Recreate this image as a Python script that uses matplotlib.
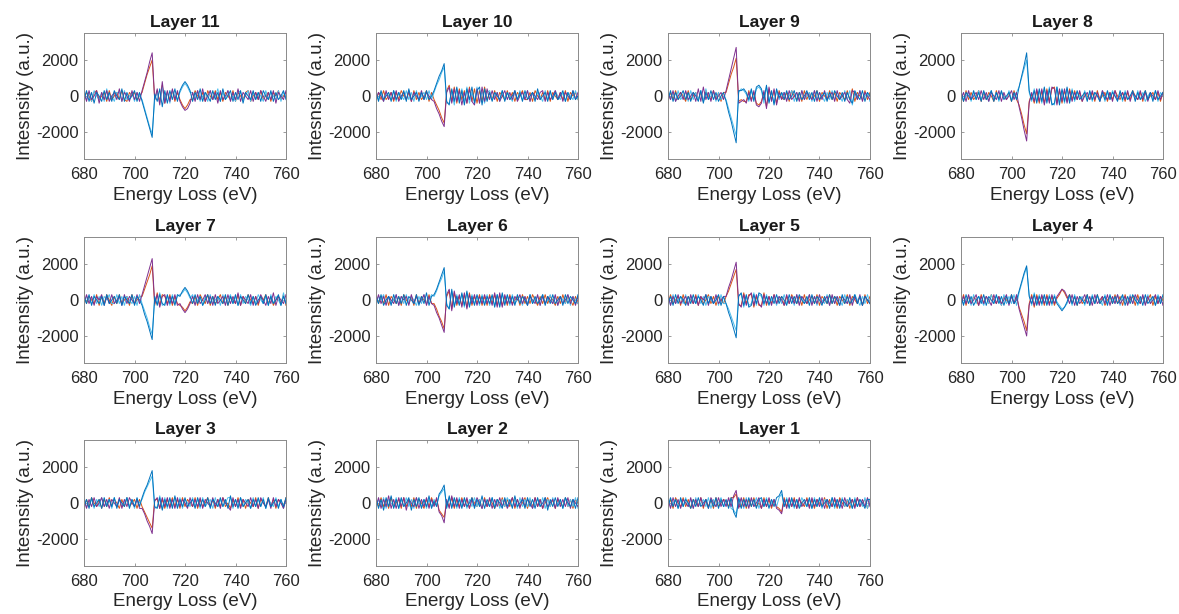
import numpy as np
import matplotlib
matplotlib.use("Agg")
import matplotlib.pyplot as plt

plt.rcParams['font.family'] = ['Liberation Sans', 'DejaVu Sans']
plt.rcParams['axes.unicode_minus'] = False

# Energy grid (eV); intensities in units of 100 a.u.
energy = list(range(680, 761))
scale = 100

titles = ["Layer 11", "Layer 10", "Layer 9", "Layer 8", "Layer 7", "Layer 6",
          "Layer 5", "Layer 4", "Layer 3", "Layer 2", "Layer 1"]
xticks = [680, 700, 720, 740, 760]
yticks = [-2000, 0, 2000]

L11_purple = [2,-3,3,-2,0,3,-4,2,-2,3,-3,0,2,-2,4,-3,2,0,-3,3,-2,2,-3,
              3,8,13,19,24,-2,
              4,-5,8,-4,3,-3,4,-2,3,
              -3,-6,-8,-7,-4,
              2,-3,3,-2,4,-3,0,3,-2,2,-4,3,-2,0,3,-3,2,-2,4,-3,2,0,-2,3,-3,2,-2,3,0,-3,2,-2,3,-4,2,0,-2,3]
L11_blue = [-2,3,-3,2,-4,2,0,-3,3,-2,2,-3,3,0,-2,4,-3,2,-2,0,3,-3,2,
            -3,-8,-13,-18,-23,1,
            -3,4,-6,3,-4,3,-2,4,-3,
            3,6,8,6,3,
            -3,2,-2,4,-3,2,0,-3,3,-2,2,-3,4,-2,0,3,-3,2,-2,3,-4,2,0,-2,3,-2,2,-3,3,0,-2,3,-3,2,-2,0,3,-2]
L11_cyan = [3,-2,2,-3,3,0,-2,2,-3,4,-2,0,-3,2,2,-3,3,-2,0,2,-3,2,0,
            -2,-7,-12,-17,-21,-2,
            2,-4,5,-3,2,-4,3,0,-2,
            2,5,7,5,2,
            2,-2,3,-3,0,2,-3,3,-2,0,4,-3,2,-2,3,-2,0,-3,3,2,-2,0,3,-3,2,-2,2,0,-3,3,-2,2,0,-2,3,-3,2,0]
L11_orange = [-2,2,0,-3,2,3,-2,0,2,-3,3,-2,0,2,-2,3,-2,-3,2,0,2,-2,0,
              2,7,12,16,20,-2,
              3,-3,6,-4,2,-2,3,-3,2,
              -2,-5,-7,-5,-2,
              -2,3,0,-2,2,-3,3,0,-2,3,-2,2,-3,2,0,-2,3,-3,2,0,-2,2,3,-3,0,2,-2,3,-2,0,2,-3,2,0,3,-2,0,2]

L10_blue = [2,-3,3,-2,0,2,-3,3,-2,2,-2,3,-3,4,-2,0,2,-3,2,-2,3,-2,0,
            3,7,11,14,18,-3,
            -5,4,-3,5,-4,3,-5,4,-2,5,-4,3,5,-5,4,-3,
            2,-3,2,0,-2,3,-3,2,-2,0,3,-2,2,-3,3,-2,0,2,-3,4,-2,0,2,-3,3,-2,2,-2,0,3,-3,2,-2,3,-2,0]
L10_purple = [-2,2,0,-3,3,-2,2,-2,3,-3,0,2,-2,3,-3,2,0,-2,3,-2,2,0,-2,
              -3,-7,-10,-14,-17,2,
              5,-4,4,-3,3,-5,2,-4,4,-3,-5,4,-4,5,-3,4,
              -2,3,-2,2,-3,0,3,-2,2,-2,3,-3,0,2,-2,3,-3,2,0,-2,2,3,-3,2,-2,0,3,-2,2,-3,2,0,-2,3,-2,2]
L10_cyan = [3,-2,2,-3,2,0,-2,3,-3,2,0,-2,3,-2,2,-3,3,-2,0,2,-2,3,-2,
            2,6,9,13,16,-4,
            -4,3,-5,4,-2,4,-3,5,-4,2,-3,5,-4,3,-4,2,
            3,-2,0,2,-3,3,-2,2,0,-3,2,-2,3,-2,0,3,-3,2,-2,2,0,-3,3,-2,2,-2,3,0,-2,2,-3,2,0,-2,3,-2]
L10_orange = [-3,2,-2,3,-2,0,2,-3,2,-2,3,0,-2,2,-3,3,-2,2,-2,0,3,-3,2,
              -2,-5,-8,-12,-15,3,
              6,-3,5,-4,4,-2,3,-4,5,-3,4,-4,3,-3,5,-2,
              2,-2,3,-3,2,0,-2,3,-2,2,-3,2,0,3,-2,-2,2,-3,3,0,-2,2,-2,3,-3,2,0,-2,2,-2,3,-3,2,0,2,-2]

L9_purple = [2,-2,3,-3,0,2,-2,3,-2,0,2,-3,4,-3,5,-2,2,-3,3,-2,0,2,-2,
             3,9,15,21,27,-4,
             -3,-2,-4,2,-3,3,-5,-6,-4,3,-7,5,-3,4,-5,2,-2,
             2,-3,3,-2,0,2,-3,3,-2,2,0,-2,3,-3,2,-2,3,-2,0,2,-3,3,-2,0,2,-2,-4,3,2,-2,3,-3,2,0,-2]
L9_blue = [-2,3,-3,2,-2,0,3,-2,2,-3,2,0,-3,3,-4,2,-2,3,-2,2,-3,0,2,
           -3,-9,-14,-20,-26,3,
           3,4,2,-2,4,-3,5,6,4,-2,6,-4,3,-5,4,-1,2,
           -2,3,-2,0,3,-3,2,-2,0,3,-2,2,-3,3,-2,0,2,-3,2,-2,3,0,-2,2,-3,2,-2,-4,3,0,-2,3,-3,2,0]
L9_cyan = [3,-2,2,-3,3,-2,0,2,-3,3,-2,2,-2,3,-3,4,-2,0,2,-3,2,-2,0,
           -2,-7,-12,-17,-22,2,
           4,3,1,-3,3,-2,4,5,3,-4,5,-3,2,-4,3,-2,1,
           2,-2,0,3,-3,2,-2,3,-2,0,2,-3,3,-2,2,0,-3,2,-2,3,-2,2,0,-3,3,-2,3,-5,2,-2,3,-2,0,2,-3]
L9_orange = [-3,2,-2,3,-2,2,0,-3,3,-2,0,2,-2,2,-3,3,0,-2,3,-2,2,-3,2,
             2,7,12,16,21,-3,
             -2,-3,-3,3,-2,2,-4,-5,-3,2,-6,4,-2,3,-4,3,-1,
             -2,2,-3,3,0,-2,2,-3,3,-2,2,-2,0,3,-3,2,0,-2,3,-2,2,-3,2,0,-2,3,-2,4,-3,2,0,-2,3,-2,2]

L8_blue = [2,-3,2,0,-2,3,-2,2,-3,3,-2,0,3,-3,2,-2,3,-2,0,2,-3,2,-2,
           5,11,17,24,3,-2,
           3,-4,4,-3,5,-4,4,-5,-4,5,-5,4,-3,5,-4,3,
           -2,3,-2,0,2,-3,3,-2,2,0,-3,2,-2,3,-2,2,0,-3,3,-2,2,-2,0,3,-3,2,-2,0,3,-2,2,-3,3,-2,0,2]
L8_purple = [-2,2,-3,3,-2,0,2,-2,3,-2,2,-3,2,0,-2,3,-3,2,-2,0,3,-2,2,
             -6,-12,-19,-25,-4,2,
             -3,4,-3,4,-5,3,-4,5,4,-5,4,-3,4,-4,3,-3,
             2,-2,3,-3,0,2,-2,3,-2,2,-3,3,0,-2,2,-3,3,-2,0,2,-2,3,-3,2,0,-2,3,-2,2,-3,2,0,-2,3,-2,2]
L8_cyan = [3,-2,0,2,-3,2,-2,3,-2,2,0,-3,3,-2,2,-3,2,0,-2,3,-2,0,2,
           5,10,15,20,2,-3,
           4,-3,3,-4,4,-3,5,-4,-5,5,-4,3,-4,4,-3,4,
           -3,2,0,-2,3,-2,2,-3,2,0,-2,3,-3,2,-2,3,0,-2,2,-3,3,-2,0,2,-2,3,-2,2,-3,0,2,-2,3,-3,2,0]
L8_orange = [2,-3,3,-2,2,-2,0,3,-3,2,-2,2,0,-3,3,-2,2,0,-2,2,-3,3,-2,
             -5,-10,-16,-21,-3,1,
             -4,3,-4,3,-4,4,-3,4,5,-4,3,-4,3,-3,4,-2,
             3,-2,2,-3,2,0,-2,2,-3,3,-2,0,2,-3,2,-2,3,0,-2,2,-3,2,-2,3,0,-2,2,-3,3,-2,0,2,-2,2,-3,2]

L7_purple = [-2,3,-2,2,-3,2,0,3,-3,2,-2,3,-2,0,2,-3,3,-2,2,0,-2,3,-2,
             3,8,13,18,23,-2,
             3,-4,2,3,-3,2,-2,3,-3,
             -2,-5,-7,-5,-2,
             2,-3,3,-2,0,3,-2,2,-3,3,-2,0,2,-3,3,-2,2,-2,4,-3,2,0,-2,3,-3,2,-2,3,0,-3,2,-2,4,-3,2,0,-2,3]
L7_blue = [2,-2,3,-3,2,0,-2,2,-3,3,-2,0,2,-2,3,-3,2,0,-2,3,-3,2,0,
           -3,-8,-12,-17,-22,2,
           -3,3,-2,-3,3,-2,2,-3,3,
           2,5,7,5,2,
           -2,3,-2,2,-3,0,3,-2,2,-3,2,0,-2,3,-3,2,-2,3,-3,2,0,-2,3,-2,2,-3,0,2,-2,3,-3,2,-2,0,3,-3,2,-2]
L7_cyan = [-3,2,0,-2,3,-2,2,-3,2,0,3,-2,-2,3,-2,2,-3,2,0,-2,2,-3,3,
           -2,-6,-10,-15,-19,1,
           -2,4,-3,-2,2,-3,3,-2,2,
           3,4,6,4,1,
           3,-2,0,2,-3,2,-2,3,-2,0,2,-3,3,-2,0,3,-2,2,-3,3,-2,2,0,-3,2,-2,3,0,-2,2,-3,3,-2,2,0,-3,4,-2]
L7_orange = [3,-2,2,0,-2,3,-3,2,-2,3,0,-3,2,-2,3,-2,0,2,-3,3,-2,0,2,
             2,6,10,14,19,-3,
             4,-3,3,2,-2,3,-3,2,-2,
             -3,-4,-6,-4,-1,
             -2,2,-3,3,0,-2,3,-3,2,-2,0,3,-2,2,-3,2,0,-2,3,-3,2,-2,3,0,-2,2,-3,2,0,3,-2,2,-3,0,2,-2,3,-3]

L6_blue = [2,-2,3,-3,0,2,-3,3,-2,2,-2,3,-3,2,0,-2,3,-3,2,-2,4,-3,2,
           3,6,10,14,18,-3,
           -5,6,-4,2,-3,4,-3,5,-4,2,-3,3,-2,2,-3,2,
           -2,3,-4,3,-4,4,-3,3,-2,2,-3,3,-2,2,0,-3,3,-2,2,-2,0,3,-3,2,-2,3,-2,0,2,-3,3,-2,2,0,-2,3]
L6_purple = [-2,3,-2,2,-3,2,0,-2,3,-3,2,0,2,-3,3,-2,2,-2,0,3,-3,2,-2,
             -3,-7,-10,-14,-18,3,
             6,-6,5,-2,3,-4,4,-5,3,-2,3,-3,2,-2,3,-2,
             2,-3,4,-4,4,-4,3,-2,2,-3,2,0,3,-2,2,-3,2,0,-2,3,-3,2,-2,2,0,-2,3,-3,2,-2,0,3,-2,2,-3,2]
L6_cyan = [-3,2,0,3,-2,2,-2,0,3,-3,2,-2,3,-2,2,0,-3,2,-2,3,-2,0,3,
           2,5,9,12,16,-2,
           -5,5,-3,3,-2,3,-4,4,-3,3,-2,2,-3,3,-2,3,
           -3,2,-3,3,-3,3,-2,2,-3,3,-2,0,2,-3,2,-2,3,-2,0,2,-3,3,-2,0,3,-2,2,-3,2,0,-2,3,-3,2,0,-2]
L6_orange = [3,-2,2,-2,3,-3,2,0,-2,2,-3,3,0,-2,2,-3,3,-2,2,0,-2,3,-2,
             -2,-5,-9,-12,-16,2,
             5,-5,4,-3,2,-3,3,-4,4,-3,2,-2,3,-3,2,-3,
             3,-2,3,-3,3,-3,2,-3,3,-2,0,2,-3,3,-2,2,-2,3,0,-3,2,-2,3,-2,2,0,-3,2,-2,3,-2,2,0,-3,2,-2]

L5_purple = [3,-3,2,-2,3,-2,0,2,-3,3,-2,2,-3,2,0,3,-3,2,-2,3,-2,0,2,
             2,7,11,16,21,-2,
             -4,3,-3,2,4,-3,3,-2,-4,3,-2,2,-3,3,-2,2,0,-3,3,-2,2,-2,3,-3,2,0,-2,3,-3,2,-2,3,-2,0,2,-3,3,-2,2,-3,2,0,-2,3,-3,2,-2,3,-3,2,0,-2]
L5_blue = [-2,2,-3,3,-2,2,0,-3,2,-2,3,-2,2,0,-3,3,-2,2,-2,0,3,-3,2,
           -2,-7,-11,-16,-21,2,
           4,-3,3,-4,-3,3,-2,4,3,-2,2,-3,2,-2,3,-2,2,0,-3,3,-2,2,-2,3,0,-2,2,-3,3,-2,2,0,-3,2,-2,3,-2,2,0,-3,3,-2,2,-2,0,3,-2,2,-3,2,0,-2]
L5_cyan = [2,-3,3,-2,0,2,-2,3,-3,2,0,-2,3,-2,2,-3,2,0,-2,2,-3,3,-2,
           -2,-5,-9,-13,-17,3,
           3,-4,2,-3,-2,4,-3,3,2,-3,3,-2,0,2,-3,2,-2,3,-2,0,2,-3,3,-2,2,-2,0,3,-2,2,-3,2,0,-2,3,-3,2,-2,2,0,-3,3,-2,2,-2,3,0,-3,2,-2,3,-2]
L5_orange = [-2,3,-2,0,2,-3,3,-2,2,0,-2,3,-3,2,-2,0,3,-2,2,-3,2,0,-2,
             2,5,9,13,17,-3,
             -3,4,-2,3,3,-4,2,-3,-3,4,-3,2,-2,3,-2,0,2,-3,2,-2,3,0,-2,2,-3,3,-2,0,2,-2,3,-3,2,0,-2,3,-2,2,-3,2,0,-2,3,-3,2,0,-2,2,-3,3,-2,2]

L4_blue = [2,-3,3,-2,2,-3,0,2,-2,3,-3,2,0,-2,3,-2,2,-3,2,-2,3,-2,0,
           5,10,15,19,2,-2,
           3,-3,2,-2,3,-3,2,-2,2,
           -2,-4,-6,-4,-1,
           3,-2,2,-3,2,0,-2,3,-3,2,-2,3,-2,0,2,-3,3,-2,2,-2,0,3,-3,2,-2,3,0,-2,2,-3,3,-2,0,2,-3,2,-2,3]
L4_purple = [-3,2,-2,3,-2,0,3,-3,2,-2,2,0,-3,3,-2,2,-2,0,3,-3,2,-2,3,
             -5,-10,-15,-20,-3,2,
             -3,2,-3,3,-2,2,-3,3,-2,
             2,4,6,5,2,
             -2,3,-3,2,-2,0,3,-2,2,-3,3,-2,0,2,-2,3,-3,2,-2,3,-2,0,2,-3,2,-2,3,0,-2,3,-3,2,-2,0,3,-2,2,-3]
L4_cyan = [3,-2,0,2,-3,3,-2,2,0,-3,2,-2,3,-2,2,0,-3,3,-2,2,-2,3,-3,
           4,9,14,18,3,-3,
           4,-2,3,-3,2,-2,3,-3,3,
           -1,-3,-5,-4,-2,
           2,-3,3,-2,0,2,-3,2,-2,3,-2,2,0,-3,3,-2,2,0,-2,3,-3,2,0,-2,3,-2,2,-3,0,2,-2,3,-2,2,-3,3,0,-2]
L4_orange = [-2,3,-3,2,-2,2,0,-3,3,-2,2,-2,3,0,-2,2,-3,2,0,-2,3,-2,2,
             -4,-8,-12,-17,-2,3,
             -4,3,-2,2,-3,3,-2,2,-3,
             1,3,6,4,1,
             3,-2,2,-3,2,-2,0,3,-3,2,-2,3,-2,2,-3,0,2,-2,3,-2,2,-3,3,-2,0,2,-3,3,-2,2,-2,0,3,-3,2,-2,2,0]

L3_blue = [-2,2,-3,3,-2,0,2,-3,3,-2,2,-2,3,-3,2,0,-2,3,-3,2,-2,3,-2,
           3,7,10,14,18,-2,
           -3,3,-4,2,-2,3,-3,4,-3,2,-2,3,-2,0,2,-3,3,-2,2,-2,3,-3,2,0,-2,3,-2,2,-3,4,-2,2,-3,3,-2,0,2,-3,2,-2,3,-2,2,-3,3,-2,0,2,-3,2,-2,3]
L3_purple = [2,-3,2,-2,3,-2,0,3,-2,2,-3,2,0,-2,3,-3,2,-2,3,0,-2,2,-3,
             -3,-6,-10,-13,-17,1,
             3,-3,3,-2,3,-3,2,-3,3,-2,2,0,-3,3,-2,2,-2,3,-3,2,0,-2,3,-2,2,-3,3,0,-2,-4,3,-2,2,-3,2,0,-2,3,-2,2,-3,3,0,-2,2,-3,3,-2,2,0,-3,2]
L3_cyan = [3,-2,0,2,-3,2,-2,3,-2,0,2,-3,3,-2,2,-2,0,3,-2,2,-3,2,0,
           2,6,9,12,15,-3,
           -2,4,-3,3,-3,2,-2,3,-2,3,-3,2,0,-2,3,-2,2,-3,3,-2,0,2,-3,3,-2,2,-2,0,3,3,-3,2,-2,3,-2,2,0,-3,3,-2,2,-2,3,-3,2,0,-2,3,-2,2,-3,2]
L3_orange = [-3,2,-2,3,0,-2,2,-3,2,-2,3,-2,2,0,-3,2,-2,3,-2,0,2,-3,2,
             -2,-5,-8,-11,-14,2,
             2,-3,2,-3,2,-2,3,-2,2,-3,3,-2,2,0,-2,3,-3,2,-2,0,3,-2,2,-3,2,-2,3,-2,0,-3,2,-2,3,-2,2,-3,2,0,-2,3,-3,2,0,-2,3,-2,2,-3,2,0,-2,3]

L2_blue = [3,-3,2,-4,3,-2,4,-3,2,-3,3,-2,0,3,-4,2,-2,3,-3,2,-2,4,-3,
           1,-2,5,7,10,-3,
           4,-3,3,-2,2,-3,3,-2,0,3,-3,2,-2,4,-3,2,-2,3,-3,2,0,-3,3,-2,2,-3,4,-2,0,2,-3,3,-2,2,-3,3,-2,0,3,-4,2,-2,3,-2,2,-3,3,0,-2,2,-3,3]
L2_purple = [-2,3,-3,2,-2,4,-3,2,-3,3,-2,3,-4,2,0,-2,3,-3,2,-2,3,-3,2,
             -2,3,-5,-7,-11,2,
             -3,4,-2,3,-3,2,-2,3,-3,2,-2,3,0,-3,2,-2,3,-3,2,-2,3,-2,2,-3,0,3,-2,2,-3,3,-2,2,0,-3,3,-2,2,-3,3,-2,0,2,-3,3,-2,2,-2,3,-3,2,0,-2]
L2_cyan = [-3,2,-2,3,-3,2,0,-2,3,-3,2,-2,3,-2,2,-3,3,0,-2,2,-3,2,-2,
           2,-1,4,6,8,-2,
           3,-2,2,-3,3,-2,2,-3,2,-2,3,-2,2,-3,2,0,-2,3,-2,2,-3,2,-2,3,0,-2,2,-3,3,-2,2,-2,3,-3,0,2,-2,3,-3,2,-2,3,-2,0,2,-3,3,-2,2,-2,3,-3]
L2_orange = [2,-2,3,-2,2,-3,3,-2,0,2,-3,3,-2,2,-2,3,-3,2,0,-3,2,-2,3,
             -1,2,-4,-6,-8,1,
             -2,3,-3,2,-2,3,-2,2,-3,3,0,-2,2,-3,3,-2,2,0,-3,2,-2,3,-2,2,-2,3,-3,2,-2,0,3,-3,2,-2,3,-2,2,-3,0,3,-2,2,-3,2,0,-2,3,-2,2,-3,2,0]

L1_purple = [2,-3,3,-2,2,-3,2,0,-2,3,-3,2,-2,3,-2,2,-3,3,0,-2,3,-2,2,
             -2,3,-2,4,7,-3,
             3,-2,2,-3,3,-2,0,3,-3,2,-2,3,-2,2,-3,-4,-6,2,-3,3,-2,2,-3,3,-2,0,2,-3,3,-2,2,-2,3,-3,2,0,-2,3,-2,2,-3,3,-2,0,2,-3,3,-2,2,-2,3,-2]
L1_blue = [-2,3,-2,2,-3,3,-2,2,0,-3,2,-2,3,-2,0,2,-3,2,-2,3,-3,2,-2,
           2,-3,3,-5,-8,3,
           -3,2,-2,3,-2,2,-3,2,3,-2,2,-3,2,-2,3,4,7,-2,2,-3,3,-2,2,-3,0,2,-2,3,-3,2,-2,3,-2,0,2,-3,3,-2,2,-3,2,0,-2,3,-3,2,-2,2,0,-3,2,2]
L1_cyan = [3,-2,0,2,-3,2,-2,3,-2,2,-3,3,-2,0,2,-2,3,-3,2,-2,0,3,-2,
           -1,2,-3,-4,-6,2,
           2,-3,3,-2,2,-2,3,-3,2,-2,3,-2,0,2,-2,3,5,-2,3,-2,2,-3,2,-2,3,0,-2,2,-3,3,-2,2,-3,2,0,-2,3,-3,2,-2,3,-2,2,0,-3,3,-2,2,-2,3,-3,2]
L1_orange = [-2,2,-3,3,0,-2,3,-2,2,-3,2,0,-2,3,-3,2,-2,2,-3,3,-2,0,2,
             1,-2,3,3,5,-2,
             -2,3,-3,2,-2,3,-2,0,-3,3,-2,2,-3,2,-2,-3,-5,3,-2,2,-2,3,-3,2,0,-2,3,-2,2,-3,2,0,-2,3,-3,2,-2,2,-3,3,0,-2,2,-3,2,-2,3,-2,0,2,-3,2]

panels = [
    (L11_orange, L11_cyan, L11_purple, L11_blue),
    (L10_orange, L10_cyan, L10_purple, L10_blue),
    (L9_orange, L9_cyan, L9_purple, L9_blue),
    (L8_orange, L8_cyan, L8_purple, L8_blue),
    (L7_orange, L7_cyan, L7_purple, L7_blue),
    (L6_orange, L6_cyan, L6_purple, L6_blue),
    (L5_orange, L5_cyan, L5_purple, L5_blue),
    (L4_orange, L4_cyan, L4_purple, L4_blue),
    (L3_orange, L3_cyan, L3_purple, L3_blue),
    (L2_orange, L2_cyan, L2_purple, L2_blue),
    (L1_orange, L1_cyan, L1_purple, L1_blue),
]
colors = ['#D95319', '#4DBEEE', '#7E2F8E', '#0072BD']

for pi, p in enumerate(panels):
    for si, s in enumerate(p):
        assert len(s) == len(energy), (titles[pi], si, len(s))

W, H = 1179, 614
fig = plt.figure(figsize=(W / 100, H / 100), dpi=100)
lefts = [84, 376, 668, 961]
tops = [33, 237, 440]
aw, ah = 202, 126
frame = '#8a8a8a'

for k, (title, series) in enumerate(zip(titles, panels)):
    r, c = divmod(k, 4)
    ax = fig.add_axes([lefts[c] / W, 1 - (tops[r] + ah) / H, aw / W, ah / H])
    x = np.array(energy)
    for s, col in zip(series, colors):
        ax.plot(x, np.array(s) * scale, color=col, lw=0.7)
    ax.set_xlim(680, 760)
    ax.set_ylim(-3500, 3500)
    ax.set_xticks(xticks)
    ax.set_yticks(yticks)
    ax.tick_params(direction='in', length=2.5, width=0.6, color=frame,
                   top=True, right=True, labelsize=12, labelcolor='#262626')
    ax.tick_params(axis='x', pad=6)
    ax.tick_params(axis='y', pad=4)
    for sp in ax.spines.values():
        sp.set_color(frame)
        sp.set_linewidth(0.7)
    ax.set_title(title, fontsize=12.5, fontweight='bold', color='#1a1a1a', pad=4)
    ax.set_xlabel('Energy Loss (eV)', fontsize=13.5, color='#262626', labelpad=3)
    ax.set_ylabel('Intesnsity (a.u.)', fontsize=13.5, color='#262626', labelpad=1)

fig.savefig('out.png', dpi=100)
